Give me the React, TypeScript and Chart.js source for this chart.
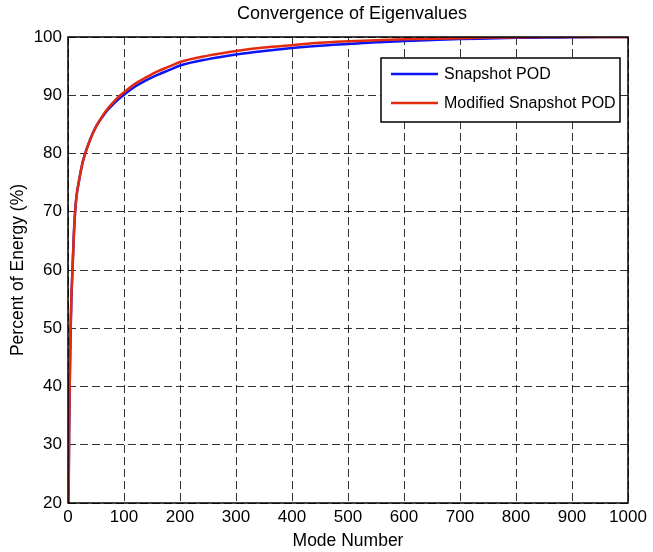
import React, { useEffect, useRef } from "react";
import { Chart, registerables } from "chart.js";

Chart.register(...registerables);

const titleText = "Convergence of Eigenvalues";
const xLabel = "Mode Number";
const yLabel = "Percent of Energy (%)";
const seriesNames = ["Snapshot POD", "Modified Snapshot POD"];
const seriesColors = ["#0a14f5", "#e42a0e"];

const modes = [1, 2, 3, 4, 5, 6, 8, 10, 12, 15, 20, 25, 30, 40, 50, 60, 70, 80, 90, 100, 120, 140, 160, 180, 200, 250, 300, 350, 400, 450, 500, 550, 600, 650, 700, 750, 800, 850, 900, 950, 1000];
const snapshotPOD = [20, 32, 40, 46, 51, 55, 60, 65, 69, 72.5, 75.5, 78, 79.8, 82.5, 84.6, 86.1, 87.4, 88.4, 89.3, 90.1, 91.5, 92.6, 93.5, 94.3, 95.1, 96.2, 97.0, 97.6, 98.1, 98.5, 98.8, 99.1, 99.3, 99.5, 99.65, 99.75, 99.85, 99.9, 99.95, 100, 100];
const modifiedPOD = [20, 32, 40, 46, 51, 55, 60, 65, 69, 72.5, 75.5, 78, 79.8, 82.5, 84.6, 86.2, 87.6, 88.7, 89.7, 90.5, 92.0, 93.1, 94.1, 94.9, 95.7, 96.8, 97.6, 98.2, 98.6, 99.0, 99.25, 99.45, 99.6, 99.7, 99.8, 99.9, 99.95, 100, 100, 100, 100];

const xTicks = [0, 100, 200, 300, 400, 500, 600, 700, 800, 900, 1000];
const yTicks = [20, 30, 40, 50, 60, 70, 80, 90, 100];

const FONT = "'Liberation Sans', Arial, Helvetica, sans-serif";

export default function App() {
  const ref = useRef<HTMLCanvasElement | null>(null);

  useEffect(() => {
    document.body.style.margin = "0";
    const canvas = ref.current;
    if (!canvas) return;

    const decor = {
      id: "decor",
      afterDraw(chart: any) {
        const { ctx, chartArea } = chart;
        const { left, right, top, bottom } = chartArea;
        ctx.save();
        // frame
        ctx.strokeStyle = "#000";
        ctx.lineWidth = 1.5;
        ctx.setLineDash([]);
        ctx.strokeRect(left, top, right - left, bottom - top);

        // title
        ctx.fillStyle = "#000";
        ctx.font = `18px ${FONT}`;
        ctx.textAlign = "center";
        ctx.textBaseline = "middle";
        ctx.fillText(titleText, (left + right) / 2 + 4, 14);

        // x label
        ctx.font = `17.5px ${FONT}`;
        ctx.fillText(xLabel, (left + right) / 2, 541);

        // y label
        ctx.save();
        ctx.translate(18, (top + bottom) / 2);
        ctx.rotate(-Math.PI / 2);
        ctx.fillText(yLabel, 0, 0);
        ctx.restore();

        // legend
        const lx = 381, ly = 58, lw = 239, lh = 64;
        ctx.fillStyle = "#fff";
        ctx.fillRect(lx, ly, lw, lh);
        ctx.strokeStyle = "#000";
        ctx.lineWidth = 1.5;
        ctx.strokeRect(lx, ly, lw, lh);
        const rows = [74, 103];
        ctx.font = `16px ${FONT}`;
        ctx.textAlign = "left";
        ctx.textBaseline = "middle";
        for (let i = 0; i < seriesNames.length; i++) {
          ctx.strokeStyle = seriesColors[i];
          ctx.lineWidth = 2.5;
          ctx.beginPath();
          ctx.moveTo(391, rows[i]);
          ctx.lineTo(438, rows[i]);
          ctx.stroke();
          ctx.fillStyle = "#000";
          ctx.fillText(seriesNames[i], 444, rows[i] + 1);
        }
        ctx.restore();
      },
    };

    const chart = new Chart(canvas, {
      type: "line",
      data: {
        datasets: [
          {
            label: seriesNames[1],
            data: modes.map((m, i) => ({ x: m, y: modifiedPOD[i] })),
            borderColor: seriesColors[1],
            borderWidth: 2.5,
            pointRadius: 0,
            cubicInterpolationMode: "monotone",
            fill: false,
          },
          {
            label: seriesNames[0],
            data: modes.map((m, i) => ({ x: m, y: snapshotPOD[i] })),
            borderColor: seriesColors[0],
            borderWidth: 2.5,
            pointRadius: 0,
            cubicInterpolationMode: "monotone",
            fill: false,
          },
        ],
      },
      options: {
        animation: false,
        responsive: false,
        maintainAspectRatio: false,
        layout: { padding: { top: 37, right: 25, left: 0, bottom: 0 } },
        plugins: {
          legend: { display: false },
          title: { display: false },
          tooltip: { enabled: false },
        },
        scales: {
          x: {
            type: "linear",
            min: 0,
            max: 1000,
            afterBuildTicks: (scale: any) => {
              scale.ticks = xTicks.map((v) => ({ value: v }));
            },
            afterFit: (scale: any) => {
              scale.height = 49;
            },
            ticks: {
              color: "#000",
              font: { family: FONT, size: 17 },
              padding: 4,
              maxRotation: 0,
              autoSkip: false,
              callback: (v: any) => String(v),
            },
            grid: {
              color: "rgba(0,0,0,0.8)",
              lineWidth: 1,
              drawTicks: false,
            },
            border: { display: false, dash: [8, 4] },
          },
          y: {
            type: "linear",
            min: 20,
            max: 100,
            afterBuildTicks: (scale: any) => {
              scale.ticks = yTicks.map((v) => ({ value: v }));
            },
            afterFit: (scale: any) => {
              scale.width = 68;
            },
            ticks: {
              color: "#000",
              font: { family: FONT, size: 17 },
              padding: 6,
              autoSkip: false,
              callback: (v: any) => String(v),
            },
            grid: {
              color: "rgba(0,0,0,0.8)",
              lineWidth: 1,
              drawTicks: false,
            },
            border: { display: false, dash: [8, 4] },
          },
        },
      },
      plugins: [decor],
    });

    return () => chart.destroy();
  }, []);

  return (
    <div style={{ width: 653, height: 552, background: "#fff" }}>
      <canvas ref={ref} width={653} height={552} />
    </div>
  );
}
